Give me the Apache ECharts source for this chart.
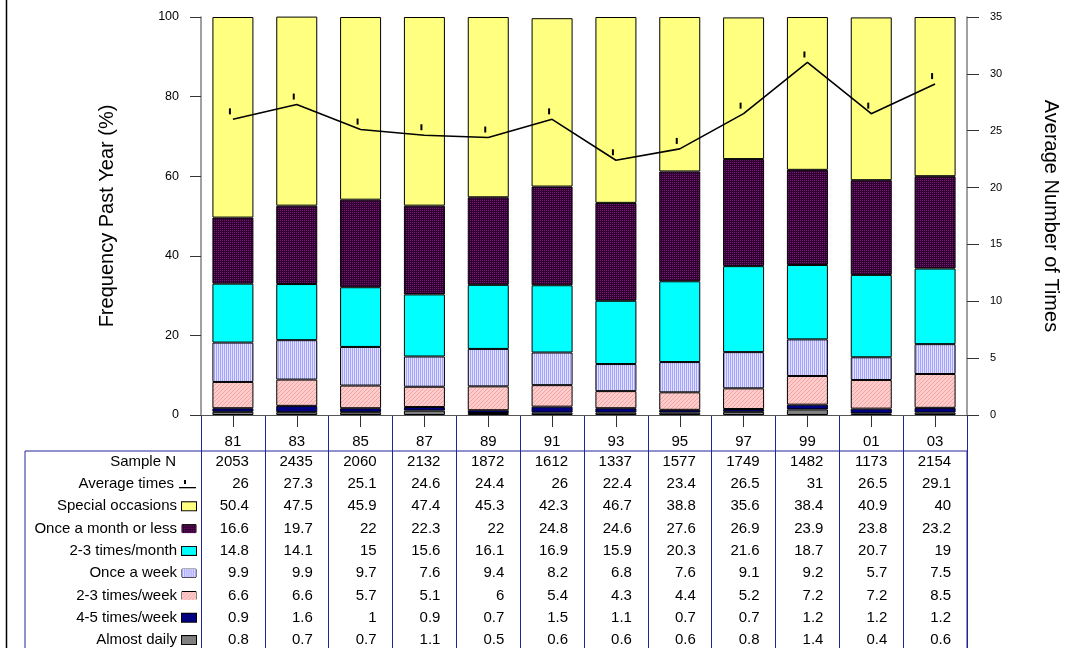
<!DOCTYPE html>
<html>
<head>
<meta charset="utf-8">
<script src="https://cdn.jsdelivr.net/npm/echarts@6/dist/echarts.min.js"></script>
<style>
  html, body { margin: 0; padding: 0; background: #fff; }
  #chart { width: 1078px; height: 648px; }
</style>
</head>
<body>
<div id="chart"></div>
<script>
  // data
  const years = ['81', '83', '85', '87', '89', '91', '93', '95', '97', '99', '01', '03'];
  const sampleN = [2053, 2435, 2060, 2132, 1872, 1612, 1337, 1577, 1749, 1482, 1173, 2154];
  const averageTimes = [26, 27.3, 25.1, 24.6, 24.4, 26, 22.4, 23.4, 26.5, 31, 26.5, 29.1];
  const specialOccasions = [50.4, 47.5, 45.9, 47.4, 45.3, 42.3, 46.7, 38.8, 35.6, 38.4, 40.9, 40];
  const onceMonthOrLess = [16.6, 19.7, 22, 22.3, 22, 24.8, 24.6, 27.6, 26.9, 23.9, 23.8, 23.2];
  const twoThreeMonth = [14.8, 14.1, 15, 15.6, 16.1, 16.9, 15.9, 20.3, 21.6, 18.7, 20.7, 19];
  const onceWeek = [9.9, 9.9, 9.7, 7.6, 9.4, 8.2, 6.8, 7.6, 9.1, 9.2, 5.7, 7.5];
  const twoThreeWeek = [6.6, 6.6, 5.7, 5.1, 6, 5.4, 4.3, 4.4, 5.2, 7.2, 7.2, 8.5];
  const fourFiveWeek = [0.9, 1.6, 1, 0.9, 0.7, 1.5, 1.1, 0.7, 0.7, 1.2, 1.2, 1.2];
  const almostDaily = [0.8, 0.7, 0.7, 1.1, 0.5, 0.6, 0.6, 0.6, 0.8, 1.4, 0.4, 0.6];
  const leftTicks = [0, 100, 20];
  const rightTicks = [0, 35, 5];

  const FONT = '"Liberation Sans", Arial, sans-serif';
  const BLUE = '#22229a';

  function makeCanvas(w, h, draw) {
    const c = document.createElement('canvas');
    c.width = w;
    c.height = h;
    draw(c.getContext('2d'));
    return c;
  }
  // fill patterns
  const purpleTile = makeCanvas(2, 2, ctx => {
    ctx.fillStyle = '#300030'; ctx.fillRect(0, 0, 2, 2);
    ctx.fillStyle = '#761676'; ctx.fillRect(0, 0, 1, 1);
  });
  const lilacTile = makeCanvas(2, 1, ctx => {
    ctx.fillStyle = '#e2e2ff'; ctx.fillRect(0, 0, 2, 1);
    ctx.fillStyle = '#a4a4ff'; ctx.fillRect(0, 0, 1, 1);
  });
  const pinkTile = makeCanvas(4, 4, ctx => {
    ctx.fillStyle = '#ffcccc'; ctx.fillRect(0, 0, 4, 4);
    ctx.fillStyle = '#f2a4a4';
    for (let i = 0; i < 4; i++) ctx.fillRect(i, 3 - i, 1, 1);
  });
  function iconFrom(tile) {
    return makeCanvas(15, 9, ctx => {
      ctx.fillStyle = ctx.createPattern(tile, 'repeat');
      ctx.fillRect(0, 0, 15, 9);
    });
  }
  const avgIcon = makeCanvas(17, 10, ctx => {
    ctx.fillStyle = '#000';
    ctx.fillRect(0, 8, 17, 1.3);
    ctx.fillRect(5, 1, 2, 4);
  });

  const segments = [
    {name: 'Almost daily', data: almostDaily, color: '#808080', icon: '#808080'},
    {name: '4-5 times/week', data: fourFiveWeek, color: '#000080', icon: '#000080'},
    {name: '2-3 times/week', data: twoThreeWeek, color: {image: pinkTile, repeat: 'repeat'}, icon: {image: iconFrom(pinkTile)}},
    {name: 'Once a week', data: onceWeek, color: {image: lilacTile, repeat: 'repeat'}, icon: {image: iconFrom(lilacTile)}},
    {name: '2-3 times/month', data: twoThreeMonth, color: '#00ffff', icon: '#00ffff'},
    {name: 'Once a month or less', data: onceMonthOrLess, color: {image: purpleTile, repeat: 'repeat'}, icon: {image: iconFrom(purpleTile)}},
    {name: 'Special occasions', data: specialOccasions, color: '#ffff80', icon: '#ffff80'}
  ];

  // table rows, top to bottom
  const tableRows = [
    {label: 'Sample N', values: sampleN, icon: null},
    {label: 'Average times', values: averageTimes, icon: 'avg'}
  ];
  segments.slice().reverse().forEach(s => tableRows.push({label: s.name, values: s.data, icon: s.icon}));

  const rowAxes = tableRows.map((row, r) => {
    let iconStyle;
    if (row.icon === null) iconStyle = {width: 15, height: 9, backgroundColor: 'transparent'};
    else if (row.icon === 'avg') iconStyle = {width: 17, height: 10, backgroundColor: {image: avgIcon}};
    else iconStyle = {width: 14, height: 8, backgroundColor: row.icon, borderColor: '#000', borderWidth: 1};
    return {
      gridIndex: 0,
      type: 'category',
      data: years,
      position: 'bottom',
      offset: 46.7 + 22.3 * r,
      axisLine: {show: false, onZero: false},
      axisTick: {show: false},
      splitLine: {show: false},
      name: row.label + '{g|}{i|}',
      nameLocation: 'start',
      nameGap: 5,
      nameMoveOverlap: false,
      nameTextStyle: {
        fontSize: 15, fontFamily: FONT, color: '#000',
        rich: {g: {width: 5}, i: iconStyle}
      },
      axisLabel: {
        interval: 0,
        margin: 0,
        verticalAlign: 'middle',
        formatter: (v, i) => '{v|' + row.values[i] + '}',
        rich: {v: {width: 32, align: 'right', fontSize: 15, fontFamily: FONT, color: '#000'}}
      }
    };
  });

  const chart = echarts.init(document.getElementById('chart'), null, {renderer: 'canvas'});

  const option = {
    animation: false,
    backgroundColor: '#fff',
    textStyle: {fontFamily: FONT},
    grid: [
      {left: 201, right: 111, top: 17, bottom: 233, outerBoundsMode: 'none'},
      {left: 201, right: 111, top: 415, bottom: -10, outerBoundsMode: 'none'},
      {left: 25, right: 111, top: 451, bottom: -10, outerBoundsMode: 'none', show: true,
        borderColor: BLUE, borderWidth: 1, backgroundColor: 'transparent'}
    ],
    xAxis: [
      {
        gridIndex: 0,
        type: 'category',
        data: years,
        position: 'bottom',
        axisLine: {show: true, onZero: false, lineStyle: {color: '#555', width: 1}},
        axisTick: {show: true, alignWithLabel: true, length: 12, lineStyle: {color: '#333'}},
        axisLabel: {interval: 0, margin: 27, verticalAlign: 'middle', fontSize: 15, fontFamily: FONT, color: '#000'},
        splitLine: {show: false}
      },
      ...rowAxes,
      {
        gridIndex: 1,
        type: 'category',
        data: years,
        axisLine: {show: false, onZero: false},
        axisTick: {show: false},
        axisLabel: {show: false},
        splitLine: {show: true, interval: 0, lineStyle: {color: BLUE, width: 1}}
      },
      {gridIndex: 2, type: 'value', show: false}
    ],
    yAxis: [
      {
        gridIndex: 0,
        type: 'value',
        position: 'left',
        min: leftTicks[0], max: leftTicks[1], interval: leftTicks[2],
        name: 'Frequency Past Year (%)',
        nameLocation: 'middle',
        nameGap: 84,
        nameMoveOverlap: false,
        nameTextStyle: {fontSize: 20, fontFamily: FONT, color: '#000'},
        axisLine: {show: true, onZero: false, lineStyle: {color: '#808080', width: 1.5}},
        axisTick: {show: true, length: 11, lineStyle: {color: '#333'}},
        axisLabel: {margin: 22, fontSize: 12.5, fontFamily: FONT, color: '#000'},
        splitLine: {show: false}
      },
      {
        gridIndex: 0,
        type: 'value',
        position: 'right',
        min: rightTicks[0], max: rightTicks[1], interval: rightTicks[2],
        name: 'Average Number of Times',
        nameLocation: 'middle',
        nameRotate: -90,
        nameGap: 74,
        nameMoveOverlap: false,
        nameTextStyle: {fontSize: 20, fontFamily: FONT, color: '#000'},
        axisLine: {show: true, onZero: false, lineStyle: {color: '#808080', width: 1.5}},
        axisTick: {show: true, length: 12, lineStyle: {color: '#333'}},
        axisLabel: {margin: 23, fontSize: 11, fontFamily: FONT, color: '#000'},
        splitLine: {show: false}
      },
      {gridIndex: 1, type: 'value', show: false},
      {gridIndex: 2, type: 'value', show: false}
    ],
    graphic: [
      {type: 'line', shape: {x1: 6.5, y1: 0, x2: 6.5, y2: 648}, style: {stroke: '#000', lineWidth: 1.5}}
    ],
    series: [
      ...segments.map(s => ({
        name: s.name,
        type: 'bar',
        stack: 'total',
        xAxisIndex: 0,
        yAxisIndex: 0,
        barWidth: 41,
        data: s.data,
        itemStyle: {color: s.color, borderColor: '#000', borderWidth: 1}
      })),
      {
        name: 'Average times',
        type: 'line',
        xAxisIndex: 0,
        yAxisIndex: 1,
        data: averageTimes,
        z: 5,
        symbol: 'rect',
        symbolSize: [2, 6],
        symbolOffset: [-3, -8],
        showSymbol: true,
        lineStyle: {color: '#000', width: 1.6},
        itemStyle: {color: '#000'}
      }
    ]
  };

  chart.setOption(option);
</script>
</body>
</html>
